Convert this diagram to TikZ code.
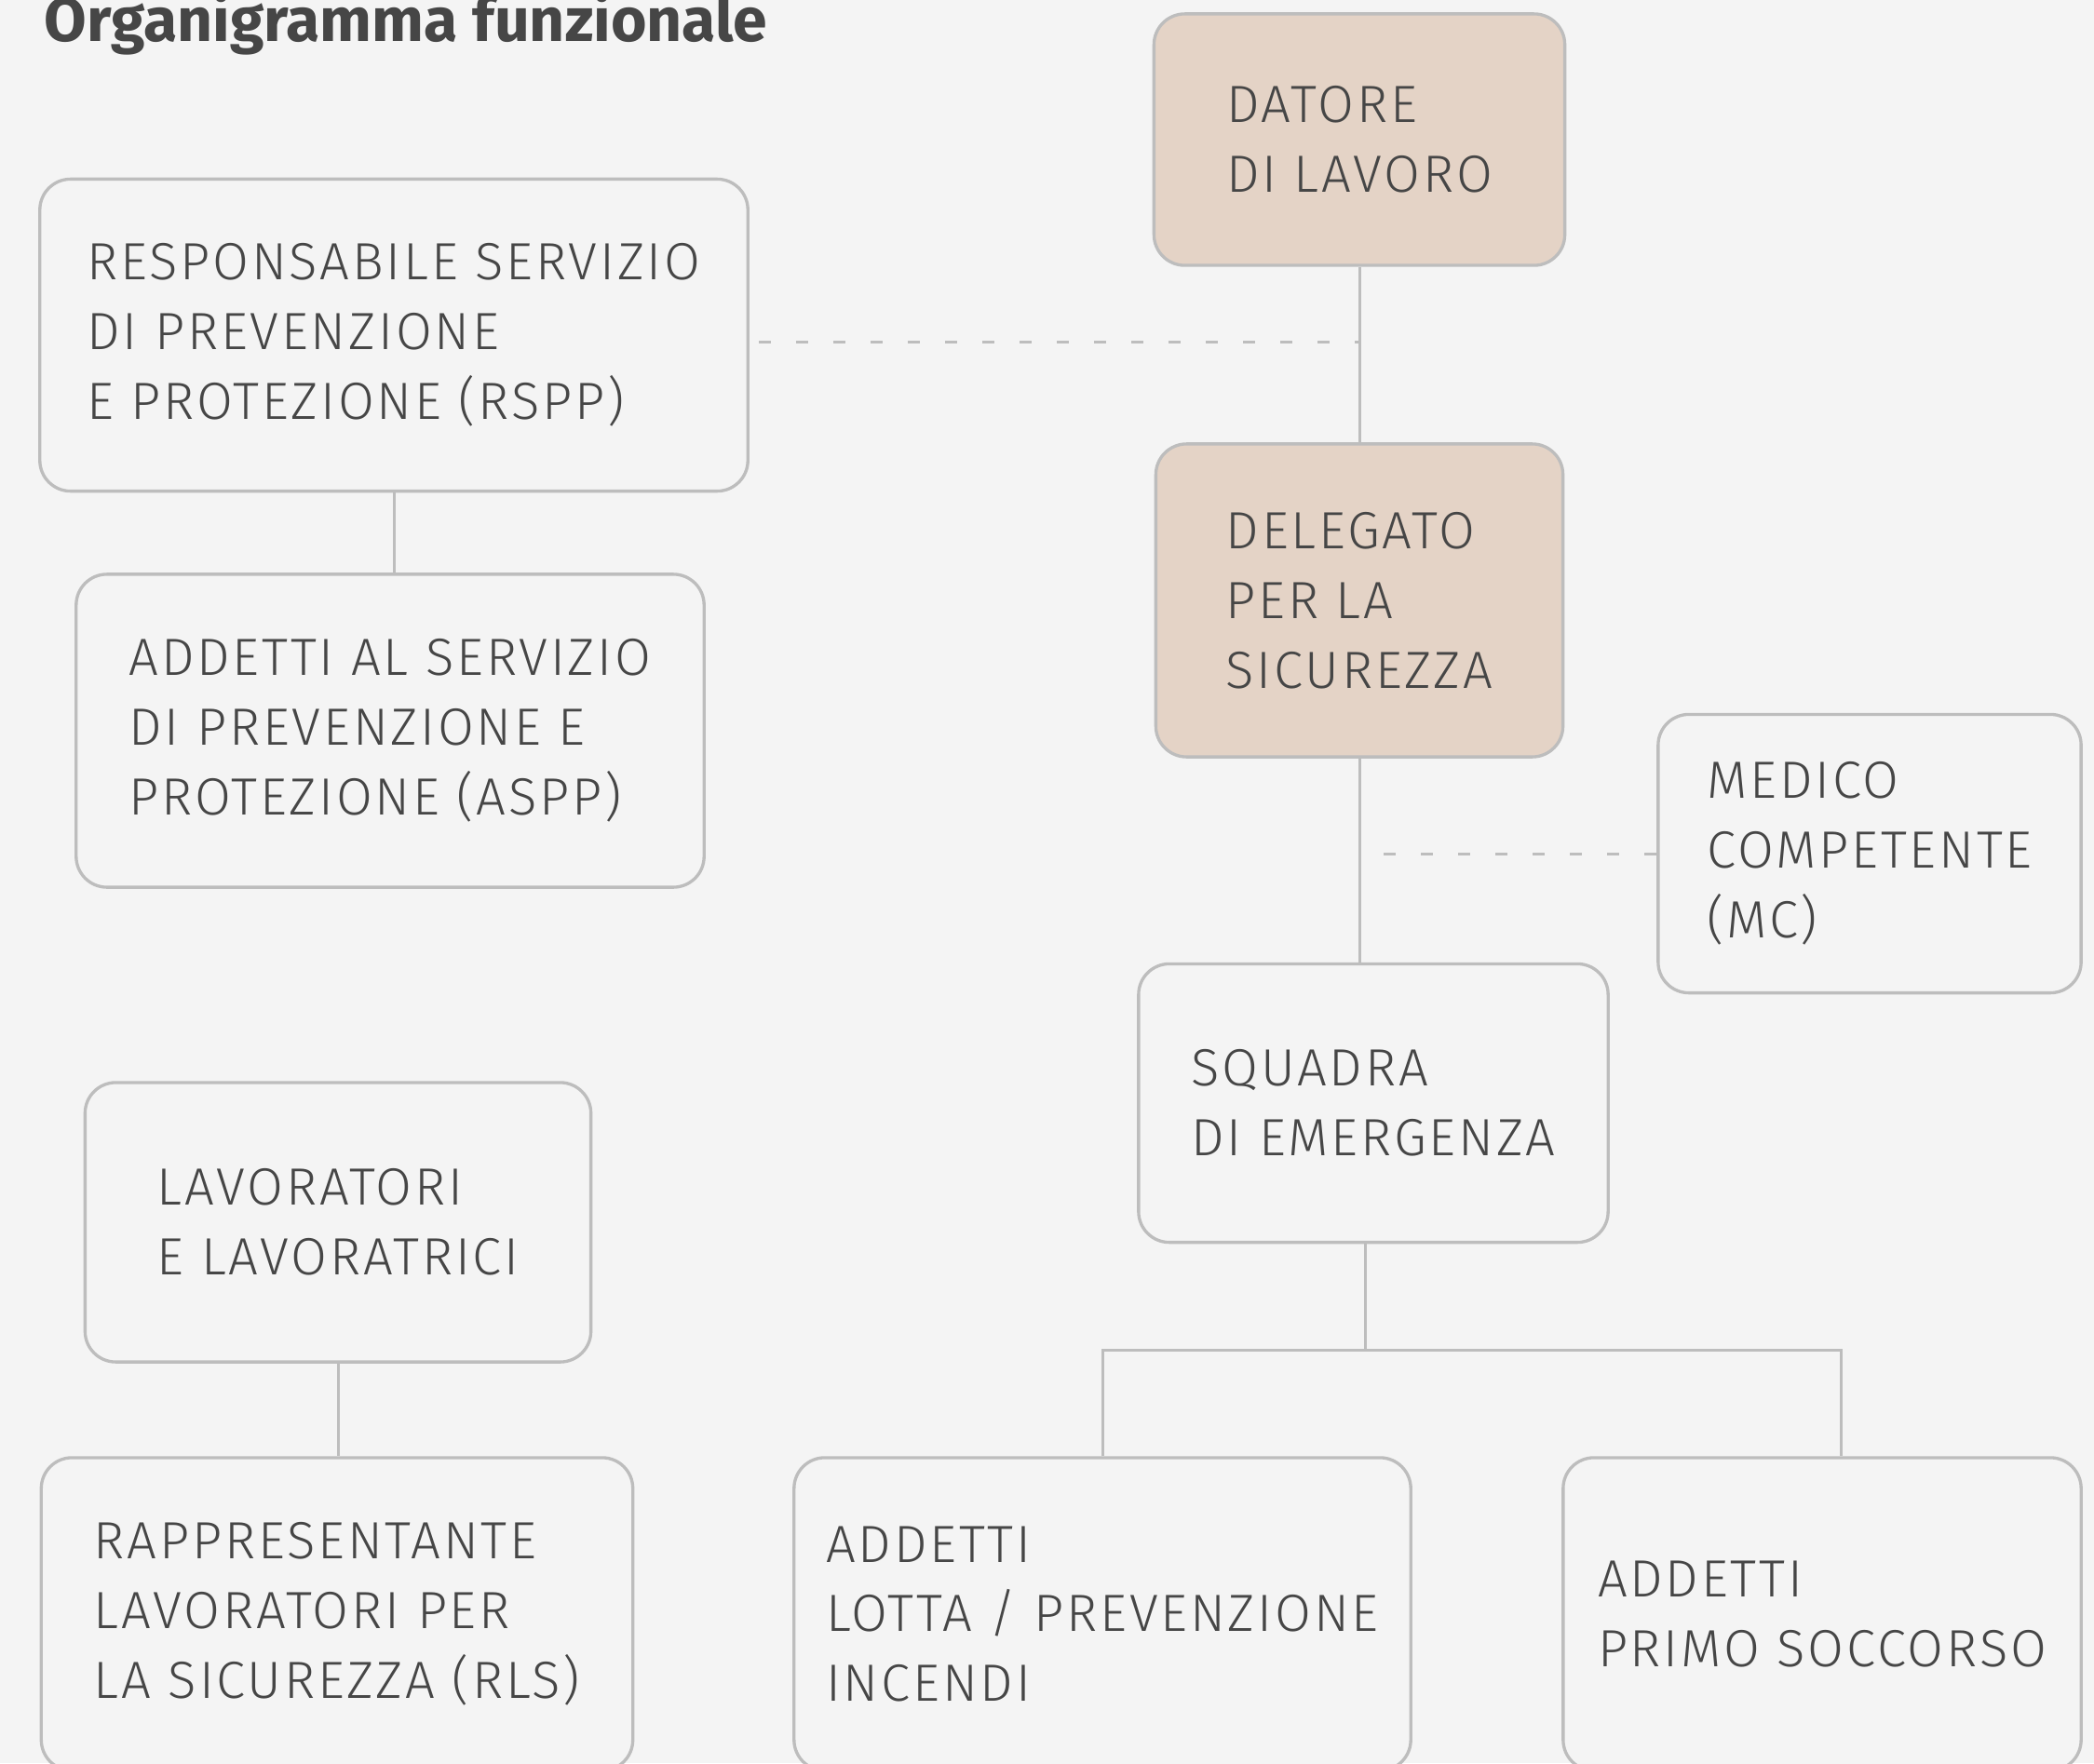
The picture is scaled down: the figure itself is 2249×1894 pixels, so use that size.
\documentclass[tikz,border=0pt]{standalone}
\usepackage{fontspec}
\setmainfont{Fira Sans}[UprightFont=* Light, BoldFont=* Bold]
\newfontfamily\boxfont{Fira Sans}[UprightFont=* Light, LetterSpace=5]
\usetikzlibrary{positioning, calc}

\definecolor{pagebg}{HTML}{F4F4F4}
\definecolor{boxline}{HTML}{BDBDBD}
\definecolor{boxtext}{HTML}{464646}
\definecolor{keyfill}{HTML}{E4D3C6}

\begin{document}
\begin{tikzpicture}[x=0.01cm, y=-0.01cm,
        orgbox/.style={draw=boxline, line width=0.95pt, fill=pagebg, rounded corners=0.33cm,
            align=left, text=boxtext, inner sep=0pt,
            font=\boxfont\fontsize{16}{21.3}\selectfont},
        keybox/.style={orgbox, fill=keyfill},
        link/.style={draw=boxline, line width=0.85pt},
        dashlink/.style={link, dash pattern=on 0.13cm off 0.27cm}]
        \fill[pagebg] (0,0) rectangle (2249,1894);
        \useasboundingbox (0,0) rectangle (2249,1894);

        % titolo
        \node[anchor=base west, inner sep=0pt, text=boxtext,
            font=\fontsize{18.8}{22}\selectfont\bfseries] (titolo) at (47,45) {Organigramma funzionale};

        % colonna destra
        \node[keybox, minimum width=4.41cm, minimum height=2.70cm] (datore) at (1460,150)
            {DATORE\\DI LAVORO};
        \node[keybox, minimum width=4.37cm, minimum height=3.36cm] (delegato) at (1460,645)
            {DELEGATO\\PER LA\\SICUREZZA};
        \node[orgbox, minimum width=4.54cm, minimum height=2.99cm] (medico) at (2008,917)
            {MEDICO\\COMPETENTE\\(MC)};
        \node[orgbox, minimum width=5.04cm, minimum height=2.99cm] (squadra) at (1475,1185)
            {SQUADRA\\DI EMERGENZA};
        \node[orgbox, minimum width=6.62cm, minimum height=3.36cm] (lotta) at (1184,1734)
            {ADDETTI\\LOTTA / PREVENZIONE\\INCENDI};
        \node[orgbox, minimum width=5.56cm, minimum height=3.36cm] (primo) at (1957,1734)
            {ADDETTI\\PRIMO SOCCORSO};

        % colonna sinistra
        \node[orgbox, minimum width=7.60cm, minimum height=3.35cm] (rspp) at (423,360)
            {RESPONSABILE SERVIZIO\\DI PREVENZIONE\\E PROTEZIONE (RSPP)};
        \node[orgbox, minimum width=6.74cm, minimum height=3.36cm] (aspp) at (419,785)
            {ADDETTI AL SERVIZIO\\DI PREVENZIONE E\\PROTEZIONE (ASPP)};
        \node[orgbox, minimum width=5.43cm, minimum height=3.00cm] (lavoratori) at (363,1313)
            {LAVORATORI\\E LAVORATRICI};
        \node[orgbox, minimum width=6.35cm, minimum height=3.36cm] (rls) at (362,1734)
            {RAPPRESENTANTE\\LAVORATORI PER\\LA SICUREZZA (RLS)};

        % collegamenti
        \draw[link] (datore.south) -- (delegato.north);
        \draw[link] (delegato.south) -- (delegato.south |- squadra.north);
        \draw[dashlink] ([shift={(0.10cm,-0.07cm)}]rspp.east) -- ([yshift=-0.07cm]rspp.east -| datore.south);
        \draw[dashlink] ([xshift=0.26cm]medico.west -| delegato.south) -- (medico.west);
        \draw[link] (rspp.south) -- (rspp.south |- aspp.north);
        \draw[link] (lavoratori.south) -- (lavoratori.south |- rls.north);

        \coordinate (fork) at ($(squadra.south)+(-9,114)$);
        \draw[link] (fork |- squadra.south) -- (fork);
        \draw[link] (lotta.north) |- (fork) -| ([xshift=0.20cm]primo.north);
    \end{tikzpicture}
\end{document}
